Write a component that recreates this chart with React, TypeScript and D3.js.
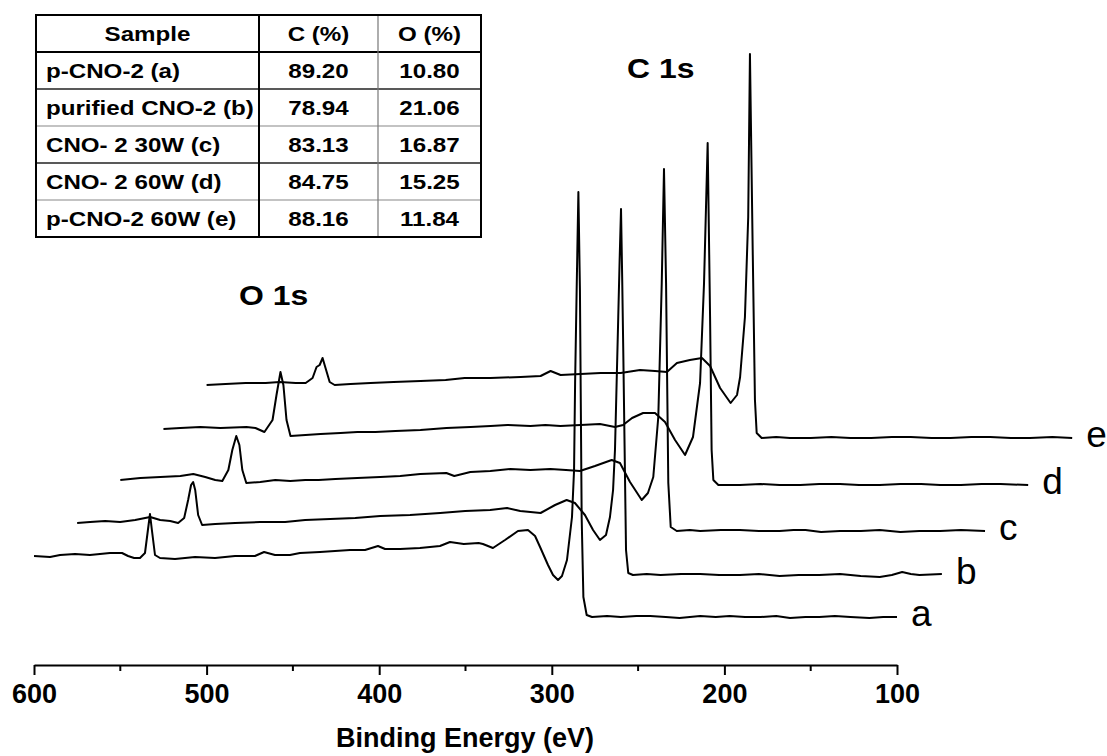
import React, { useEffect, useRef } from 'react';
import * as d3 from 'd3';

const WIDTH = 1107;
const HEIGHT = 756;

// composition table
const tableHeaders = ['Sample', 'C (%)', 'O (%)'];
const samples = ['p-CNO-2 (a)', 'purified CNO-2 (b)', 'CNO- 2 30W (c)', 'CNO- 2 60W (d)', 'p-CNO-2 60W (e)'];
const carbonPct = ['89.20', '78.94', '83.13', '84.75', '88.16'];
const oxygenPct = ['10.80', '21.06', '16.87', '15.25', '11.84'];

// XPS survey spectra: [binding energy (eV), intensity (a.u.)]
const spectrumA = [
  [600, 61], [590.7, 60], [584.9, 62], [576.2, 63], [567.6, 62], [556, 64], [549, 64], [545.5, 61], [542, 59], [538.6, 59],
  [535.7, 64], [534, 87], [532.8, 103], [531.7, 87], [529.9, 62], [527, 59], [518.3, 58], [506.7, 60], [495.1, 59], [483.5, 61],
  [472, 61], [466.7, 65], [460.4, 62], [451.7, 62], [445.9, 64], [434.3, 65], [425.6, 66], [416.9, 67], [408.2, 67], [400.7, 71],
  [396.6, 68], [387.9, 68], [376.4, 69], [364.8, 71], [359, 75], [351, 73], [342.4, 74], [339.9, 73], [334.1, 69], [327.1, 77],
  [319.6, 86], [313.8, 87], [309.7, 81], [306.8, 70], [302.2, 52], [299.3, 42], [296.4, 37], [294.1, 41], [291.2, 57], [288.3, 100],
  [287.1, 147], [286.5, 234], [285.6, 327], [284.6, 425], [283.7, 327], [282.7, 100], [281.7, 20], [279.8, 2], [276.7, 0],
  [268, 1], [260, 0], [251, 1], [243, 1], [234, 0], [226, -1], [214, 1], [205, 0], [197, 1], [188, 0], [179, 0], [170, 1],
  [162, -1], [153, 0], [145, 0], [136, 1], [127, 0], [116, -1], [108, 0], [100, 0],
];
const spectrumB = [
  [600, 52], [592.5, 53], [583.8, 54], [575.1, 53], [566.4, 55], [560.6, 57], [557.7, 58], [551.9, 55], [546.1, 54], [541.5, 52],
  [538, 57], [535.7, 75], [534, 90], [532.8, 93], [531.6, 85], [529.9, 60], [527.6, 50], [520, 51], [508.5, 52], [494, 53],
  [479.5, 53], [467.9, 55], [453.4, 56], [438.9, 57], [424.4, 59], [407.1, 60], [389.7, 62], [375.2, 64], [360.7, 65], [350.9, 67],
  [343.3, 64], [331.5, 62], [323.1, 70], [316.4, 75], [311.6, 72], [305.8, 60], [301.1, 45], [297.1, 35], [293.6, 40], [291.3, 58],
  [289.5, 85], [288.4, 125], [286.5, 258], [285.7, 315], [284.9, 366], [284.2, 295], [283.6, 225], [282, 25], [280.7, 2], [278, 0],
  [270, 1], [262, 0], [250, 1], [239, 1], [228, 0], [216, 0], [205, 1], [193, -1], [182, 0], [170, 0], [158, 1], [146, -1],
  [135, -2], [128, 0], [122, 3], [117, 1], [112, 0], [99, 1],
];
const spectrumC = [
  [600, 51], [588.4, 53], [576.8, 54], [565.2, 55], [557.7, 57], [550.8, 54], [545, 51], [540.9, 50], [537.4, 61], [535.1, 81],
  [532.8, 95], [531, 86], [529.3, 61], [527, 48], [518.9, 49], [510.2, 51], [501.5, 50], [492.8, 51], [485.1, 51], [475.4, 52],
  [462.7, 53], [449.4, 54], [437.8, 55], [426.2, 57], [411.1, 58], [406.5, 55], [397.2, 59], [385.6, 60], [374, 62], [362.4, 61],
  [350.8, 62], [341.8, 61], [333.7, 60], [325, 65], [315.3, 71], [310.5, 68], [304.7, 49], [297.9, 31], [294.3, 38], [291.2, 54],
  [288.3, 114], [286.3, 248], [285, 362], [283.8, 248], [282.5, 48], [281.1, 4], [277.6, 0], [270, 1], [264, 0], [252, 1],
  [241, 1], [230, 0], [218, 0], [210, 1], [203, 1], [194, -1], [183, 0], [171, 0], [160, 1], [148, -1], [137, 0], [125, 0],
  [113, 1], [99, 0],
];
const spectrumD = [
  [600, 56], [590.2, 57], [578.6, 58], [567, 57], [551.9, 58], [546.7, 57], [541.5, 53], [536.8, 65], [534.5, 90], [532.2, 113],
  [530.5, 100], [528.7, 65], [526.4, 49], [517.7, 50], [509, 51], [497.4, 52], [487.6, 53], [477.2, 53], [465.6, 54], [451.1, 55],
  [436, 57], [422.1, 58], [410.5, 59], [400.7, 60], [387.4, 59], [378.7, 60], [370, 59], [358.4, 60], [347.1, 61], [338.4, 58],
  [333.7, 60], [328.5, 67], [322.1, 72], [315.2, 72], [309.4, 63], [303.6, 45], [297.8, 30], [293.2, 48], [289.1, 102], [286.8, 202],
  [285.7, 275], [284.7, 342], [283.3, 168], [282.4, 35], [281.4, 5], [278.5, 0], [266, 0], [254, 1], [243, 0], [231, 0],
  [220, 1], [208, 1], [197, 0], [185, 0], [173, 1], [161, 1], [150, 0], [138, 0], [126, 1], [115, 1], [99, 0],
];
const spectrumE = [
  [600, 53], [589, 54], [577.4, 55], [565.8, 55], [557.7, 56], [548.4, 55], [542.6, 55], [538.6, 60], [536.3, 71], [534.5, 73],
  [532.8, 80], [531.1, 70], [528.7, 56], [525.8, 53], [516.6, 54], [505, 55], [491.7, 56], [476, 57], [461.5, 58], [450.5, 60],
  [435.5, 60], [418.1, 61], [406.5, 62], [400.7, 67], [394.9, 63], [383.3, 64], [371.7, 65], [360.1, 65], [348.9, 68], [340.2, 67],
  [333.3, 66], [327.5, 75], [320, 78], [313, 80], [308.3, 72], [302.5, 50], [296.4, 35], [292.7, 43], [290.9, 61], [288.1, 121],
  [286.2, 221], [285.2, 384], [283.6, 188], [282.3, 38], [281.3, 5], [278.4, 0], [270, 1], [262, 0], [250, 0], [238, 1],
  [227, 0], [215, 0], [203, 1], [192, 1], [180, 0], [169, 0], [157, 1], [146, 1], [134, 0], [123, 0], [110, 1], [98.5, 0],
];

const spectra = [spectrumA, spectrumB, spectrumC, spectrumD, spectrumE];
const curveLabels = ['a', 'b', 'c', 'd', 'e'];
const energyShift = [0, 25, 50, 75, 100];
const intensityShift = [0, 42, 86, 132, 179];

const majorTicks = [600, 500, 400, 300, 200, 100];
const minorTicks = [550, 450, 350, 250, 150];

const FONT = '"Liberation Sans", Arial, Helvetica, sans-serif';

export default function App() {
  const svgRef = useRef<SVGSVGElement>(null);

  useEffect(() => {
    const svg = d3.select(svgRef.current);
    svg.selectAll('*').remove();

    const x = d3.scaleLinear().domain([600, 100]).range([34, 897]);
    const y = d3.scaleLinear().domain([0, 600]).range([617, 17]);

    // spectra
    spectra.forEach((data, i) => {
      const line = d3.line<number[]>()
        .x(d => x(d[0] - energyShift[i]))
        .y(d => y(d[1] + intensityShift[i]));
      svg.append('path')
        .datum(data)
        .attr('d', line)
        .attr('fill', 'none')
        .attr('stroke', '#000')
        .attr('stroke-width', 2)
        .attr('stroke-linejoin', 'round');

      const last = data[data.length - 1];
      svg.append('text')
        .attr('x', x(last[0] - energyShift[i]) + 14)
        .attr('y', y(intensityShift[i]) + 9)
        .attr('font-family', FONT)
        .attr('font-size', 37)
        .attr('fill', '#000')
        .text(curveLabels[i]);
    });

    // peak names
    const peakLabel = (tx: number, ty: number, s: string) => {
      svg.append('text')
        .attr('transform', `translate(${tx},${ty}) scale(1.14,1)`)
        .attr('font-family', FONT)
        .attr('font-weight', 'bold')
        .attr('font-size', 28)
        .text(s);
    };
    peakLabel(627, 78, 'C 1s');
    peakLabel(239, 305, 'O 1s');

    // x axis
    const axisG = svg.append('g').attr('transform', 'translate(0,665)');
    axisG.call(
      d3.axisBottom(x).tickValues(majorTicks).tickSize(10).tickSizeOuter(0).tickPadding(9).tickFormat(d3.format('d'))
    );
    axisG.select('.domain').attr('stroke-width', 2);
    axisG.selectAll('.tick line').attr('stroke-width', 2);
    axisG.selectAll('.tick text')
      .attr('font-family', FONT)
      .attr('font-weight', 'bold')
      .attr('font-size', 27)
      .attr('fill', '#000');
    axisG.selectAll('.minor')
      .data(minorTicks)
      .join('line')
      .attr('class', 'minor')
      .attr('x1', d => x(d))
      .attr('x2', d => x(d))
      .attr('y1', 0)
      .attr('y2', 6)
      .attr('stroke', '#000')
      .attr('stroke-width', 2);

    svg.append('text')
      .attr('x', 465)
      .attr('y', 747)
      .attr('text-anchor', 'middle')
      .attr('font-family', FONT)
      .attr('font-weight', 'bold')
      .attr('font-size', 27)
      .text('Binding Energy (eV)');

    // table
    const colEdges = [36, 259, 378, 481];
    const rowY = d3.scaleLinear().domain([0, 6]).range([15, 237]);
    const table = svg.append('g');
    [2, 3, 4, 5].forEach(r => {
      table.append('line')
        .attr('x1', colEdges[0]).attr('x2', colEdges[3])
        .attr('y1', rowY(r)).attr('y2', rowY(r))
        .attr('stroke', r % 2 === 0 ? '#222' : '#888')
        .attr('stroke-width', r % 2 === 0 ? 1.5 : 1.2);
    });
    table.append('line')
      .attr('x1', colEdges[0]).attr('x2', colEdges[3])
      .attr('y1', rowY(1)).attr('y2', rowY(1))
      .attr('stroke', '#000').attr('stroke-width', 2);
    table.append('line')
      .attr('x1', colEdges[1]).attr('x2', colEdges[1])
      .attr('y1', rowY(0)).attr('y2', rowY(6))
      .attr('stroke', '#000').attr('stroke-width', 2);
    table.append('line')
      .attr('x1', colEdges[2]).attr('x2', colEdges[2])
      .attr('y1', rowY(0)).attr('y2', rowY(6))
      .attr('stroke', '#777').attr('stroke-width', 1.2);
    table.append('rect')
      .attr('x', colEdges[0]).attr('y', rowY(0))
      .attr('width', colEdges[3] - colEdges[0]).attr('height', rowY(6) - rowY(0))
      .attr('fill', 'none').attr('stroke', '#000').attr('stroke-width', 2);

    const cellText = (tx: number, ty: number, s: string, anchor: string) => {
      table.append('text')
        .attr('transform', `translate(${tx},${ty}) scale(1.15,1)`)
        .attr('text-anchor', anchor)
        .attr('font-family', FONT)
        .attr('font-weight', 'bold')
        .attr('font-size', 21)
        .text(s);
    };
    const mid = (r: number) => (rowY(r) + rowY(r + 1)) / 2 + 7.5;
    cellText((colEdges[0] + colEdges[1]) / 2, mid(0), tableHeaders[0], 'middle');
    cellText((colEdges[1] + colEdges[2]) / 2, mid(0), tableHeaders[1], 'middle');
    cellText((colEdges[2] + colEdges[3]) / 2, mid(0), tableHeaders[2], 'middle');
    samples.forEach((s, i) => {
      cellText(46, mid(i + 1), s, 'start');
      cellText((colEdges[1] + colEdges[2]) / 2, mid(i + 1), carbonPct[i], 'middle');
      cellText((colEdges[2] + colEdges[3]) / 2, mid(i + 1), oxygenPct[i], 'middle');
    });
  }, []);

  return (
    <svg
      ref={svgRef}
      width={WIDTH}
      height={HEIGHT}
      style={{ position: 'absolute', left: 0, top: 0, background: '#fff' }}
    />
  );
}
